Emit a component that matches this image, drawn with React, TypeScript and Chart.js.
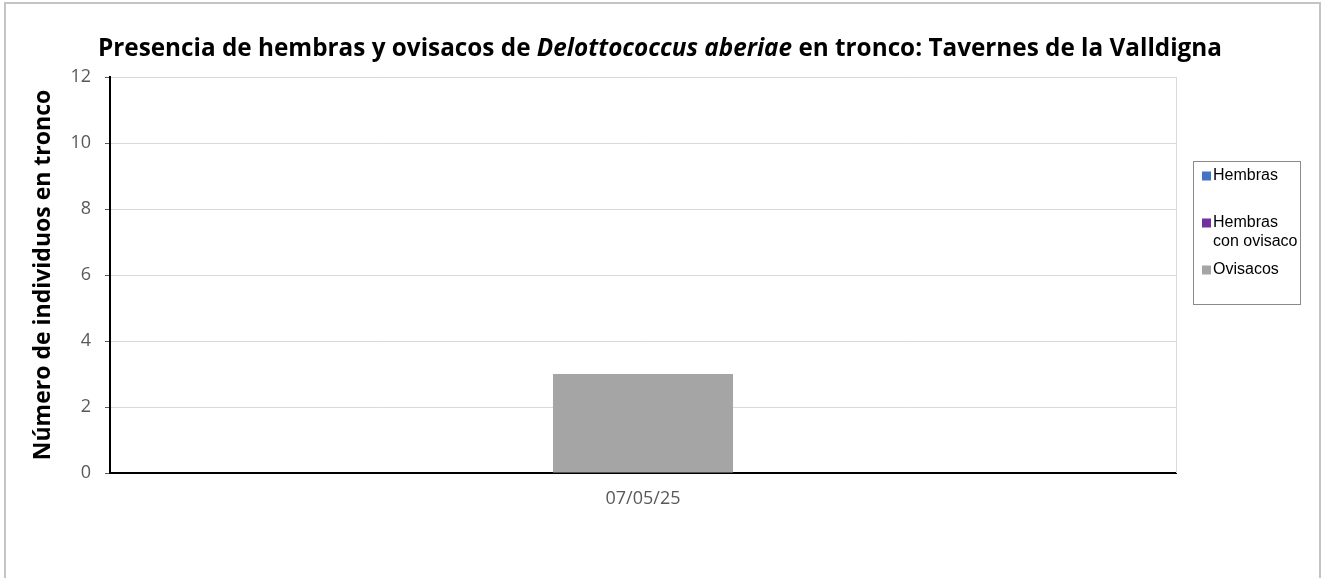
import React, { useEffect, useRef } from "react";
import { Chart, registerables } from "chart.js";

Chart.register(...registerables);

const categories: string[] = ["07/05/25"];
const hembras: number[] = [0];
const hembrasConOvisaco: number[] = [0];
const ovisacos: number[] = [3];
const seriesLabels: string[] = ["Hembras", "Hembras con ovisaco", "Ovisacos"];
const seriesColors: string[] = ["#4472C4", "#7030A0", "#A5A5A5"];
const yTicks: number[] = [0, 2, 4, 6, 8, 10, 12];

const titleParts = [
  { text: "Presencia de hembras y ovisacos de ", italic: false },
  { text: "Delottococcus aberiae", italic: true },
  { text: " en tronco: Tavernes de la Valldigna", italic: false },
];
const yTitle = "Número de individuos en tronco";

const W = 1322;
const H = 578;

const decorPlugin = {
  id: "decor",
  beforeDraw(chart: any) {
    const ctx = chart.ctx;
    ctx.save();
    ctx.fillStyle = "#ffffff";
    ctx.fillRect(0, 0, W, H);
    ctx.restore();
  },
  afterDraw(chart: any) {
    const ctx = chart.ctx;
    const area = chart.chartArea;
    ctx.save();
    // outer frame
    ctx.strokeStyle = "#c4c4c4";
    ctx.lineWidth = 2;
    ctx.strokeRect(5, 3, 1315, 620);
    // plot area right border
    ctx.strokeStyle = "#d9d9d9";
    ctx.lineWidth = 1;
    ctx.beginPath();
    ctx.moveTo(Math.round(area.right) + 0.5, area.top);
    ctx.lineTo(Math.round(area.right) + 0.5, area.bottom);
    ctx.stroke();

    // title with italic part
    const fs = 24.3;
    const fam = "'Open Sans', sans-serif";
    let total = 0;
    const widths: number[] = [];
    for (const p of titleParts) {
      ctx.font = `${p.italic ? "italic " : ""}bold ${fs}px ${fam}`;
      const w = ctx.measureText(p.text).width;
      widths.push(w);
      total += w;
    }
    let x = 660 - total / 2;
    ctx.fillStyle = "#000000";
    ctx.textBaseline = "alphabetic";
    ctx.textAlign = "left";
    titleParts.forEach((p, i) => {
      ctx.font = `${p.italic ? "italic " : ""}bold ${fs}px ${fam}`;
      ctx.fillText(p.text, x, 56);
      x += widths[i];
    });

    // y axis title
    ctx.save();
    ctx.translate(43, (area.top + area.bottom) / 2);
    ctx.rotate(-Math.PI / 2);
    ctx.font = `bold 23px ${fam}`;
    ctx.textAlign = "center";
    ctx.textBaseline = "middle";
    ctx.fillText(yTitle, 0, 0);
    ctx.restore();

    // legend
    const bx = 1193, by = 161, bw = 107, bh = 143;
    ctx.strokeStyle = "#8a8a8a";
    ctx.lineWidth = 1;
    ctx.strokeRect(bx + 0.5, by + 0.5, bw, bh);
    const centers = [176, 223, 270];
    ctx.font = "16px 'Liberation Sans', Arial, sans-serif";
    ctx.textBaseline = "middle";
    ctx.textAlign = "left";
    chart.data.datasets.forEach((ds: any, i: number) => {
      const cy = centers[i];
      ctx.fillStyle = ds.backgroundColor;
      ctx.fillRect(1202, cy - 4.5, 9, 9);
      ctx.fillStyle = "#000000";
      const words = String(ds.label).split(" ");
      const lines: string[] = [];
      let cur = "";
      for (const w of words) {
        const test = cur ? cur + " " + w : w;
        if (ctx.measureText(test).width > 86 && cur) {
          lines.push(cur);
          cur = w;
        } else cur = test;
      }
      if (cur) lines.push(cur);
      lines.forEach((ln, k) => ctx.fillText(ln, 1213, cy + k * 19));
    });
    ctx.restore();
  },
};

export default function App() {
  const ref = useRef<HTMLCanvasElement>(null);
  useEffect(() => {
    if (!ref.current) return;
    const chart = new Chart(ref.current, {
      type: "bar",
      data: {
        labels: categories,
        datasets: [
          { label: seriesLabels[0], data: hembras, backgroundColor: seriesColors[0] },
          { label: seriesLabels[1], data: hembrasConOvisaco, backgroundColor: seriesColors[1] },
          { label: seriesLabels[2], data: ovisacos, backgroundColor: seriesColors[2] },
        ],
      },
      options: {
        animation: false,
        responsive: false,
        devicePixelRatio: 1,
        categoryPercentage: 1,
        barPercentage: 0.1689,
        layout: { padding: { left: 0, top: 77, right: 146, bottom: 65 } },
        plugins: {
          legend: { display: false },
          title: { display: false },
          tooltip: { enabled: false },
        },
        scales: {
          x: {
            stacked: true,
            offset: true,
            grid: { display: false, drawTicks: false },
            border: { display: true, color: "#000000", width: 2 },
            ticks: {
              color: "#595959",
              padding: 15,
              font: { family: "'Open Sans', sans-serif", size: 18 },
            },
            afterFit: (s: any) => { s.height = 40; },
          },
          y: {
            stacked: true,
            min: 0,
            max: 12,
            afterBuildTicks: (s: any) => { s.ticks = yTicks.map((v) => ({ value: v })); },
            grid: { color: "#d9d9d9", lineWidth: 1, tickColor: "#595959", tickLength: 5 },
            border: { display: true, color: "#000000", width: 2 },
            ticks: {
              color: "#595959",
              padding: 14,
              font: { family: "'Open Sans', sans-serif", size: 18 },
            },
            afterFit: (s: any) => { s.width = 110; },
          },
        },
      },
      plugins: [decorPlugin],
    });
    return () => chart.destroy();
  }, []);
  return (
    <div style={{ position: "absolute", left: 0, top: 0, width: W, height: H, background: "#fff" }}>
      <canvas ref={ref} width={W} height={H} style={{ display: "block", width: W, height: H }} />
    </div>
  );
}
